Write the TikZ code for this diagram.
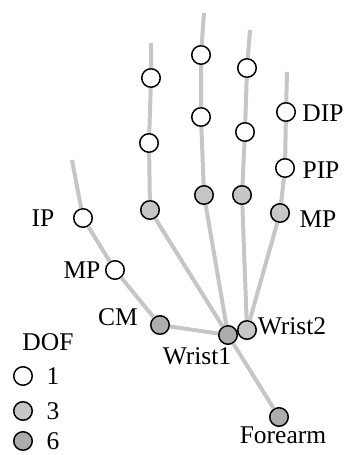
\documentclass[tikz,border=0pt]{standalone}
\usepackage{fontspec}
\setmainfont{Liberation Serif}
\begin{document}
\begin{tikzpicture}[x=1pt,y=-1pt,
  bone/.style={gray!45,line width=4pt},
  dofone/.style={circle,draw,line width=1.5pt,fill=white,minimum size=18.5pt,inner sep=0pt},
  dofthree/.style={dofone,fill=gray!45},
  dofsix/.style={dofone,fill=gray!65},
  lbl/.style={font=\fontsize{25.5}{28}\selectfont,inner sep=0pt}]
  \useasboundingbox (0,0) rectangle (345,455);
  % fingers: bone tip, DIP, PIP, MP
  \foreach \f/\xt/\yt/\xa/\ya/\xb/\yb/\xm/\ym in {i/151/43/151/78/149/143/150/210,
      m/204/13/201/55/201/117/204/195, r/250/30/247/68/245/132/242/195,
      l/287/72/286/112/285/168/280/213}{
    \coordinate (\f0) at (\xt,\yt);
    \node[dofone] (\f1) at (\xa,\ya) {};
    \node[dofone] (\f2) at (\xb,\yb) {};
    \node[dofthree] (\f3) at (\xm,\ym) {};}
  % wrist and forearm
  \node[dofsix] (wristA) at (228,335) {};
  \node[dofthree] (wristB) at (247,330) {};
  \node[dofsix] (forearm) at (279,417) {};
  % thumb
  \coordinate (t0) at (72,160);
  \node[dofone] (tIP) at (83,218) {};
  \node[dofone] (tMP) at (115,270) {};
  \node[dofsix] (tCM) at (160,325) {};
  % bones
  \draw[bone] (i0)--(i1)--(i2)--(i3)--(wristA);
  \draw[bone] (m0)--(m1)--(m2)--(m3)--(wristA);
  \draw[bone] (r0)--(r1)--(r2)--(r3)--(wristB);
  \draw[bone] (l0)--(l1)--(l2)--(l3)--(wristB);
  \draw[bone] (t0)--(tIP)--(tMP)--(tCM)--(wristA)--(forearm);
  % labels
  \node[lbl] (labDIP) at (323,113) {DIP};
  \node[lbl] (labPIP) at (321,170) {PIP};
  \node[lbl] (labMP) at (318,219) {MP};
  \node[lbl] (labIP) at (43,218) {IP};
  \node[lbl] (labtMP) at (82,270) {MP};
  \node[lbl] (labCM) at (118,317) {CM};
  \node[lbl] (labWA) at (197,356) {Wrist1};
  \node[lbl] (labWB) at (292,326) {Wrist2};
  \node[lbl] (labFA) at (283,435) {Forearm};
  % legend
  \node[lbl] (dof) at (48,342) {DOF};
  \foreach \n/\s/\y in {1/dofone/376, 3/dofthree/411, 6/dofsix/441}{
    \node[\s] (key\n) at (23,\y) {};
    \node[lbl] (keytxt\n) at (53,\y) {\n};}
\end{tikzpicture}
\end{document}
